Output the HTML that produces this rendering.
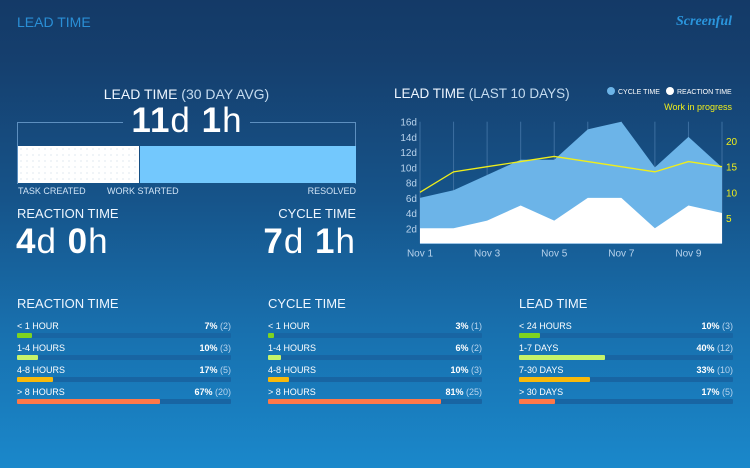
<!DOCTYPE html>
<html><head><meta charset="utf-8"><style>
*{margin:0;padding:0;box-sizing:border-box}
body{width:750px;height:468px;overflow:hidden;font-family:"Liberation Sans",sans-serif;color:#fff;
background:linear-gradient(180deg,#143a67 0px,#153f6e 60px,#16548a 200px,#1870ae 330px,#1a88cb 468px);position:relative}
.abs{position:absolute;white-space:nowrap}
.hdr{left:17px;top:14px;font-size:14px;color:#2a8fd6}
.logo{right:18px;top:14px;font-size:14px;color:#2a95dc;font-style:italic;font-family:"Liberation Serif",serif;font-weight:bold}
.big{font-size:35px;font-weight:bold;letter-spacing:1px;line-height:36px}
.big span{font-weight:normal}
.lbl{font-size:9px;color:#cfe3f5}
.h2{font-size:13px;color:#eef6ff}
.row{position:absolute;width:214px;height:20px}
.row .t{position:absolute;left:0;top:0;font-size:9px}
.row .p{position:absolute;right:0;top:0;font-size:9px;font-weight:bold}
.row .p span{font-weight:normal;color:#b8d4ee}
.row .tr{position:absolute;left:0;top:12px;width:214px;height:5px;background:#1865a3;border-radius:1px}
.row .f{position:absolute;left:0;top:0;height:5px;border-radius:1px}
</style></head><body>
<div class="abs hdr">LEAD TIME</div>
<div class="abs logo">Screenful</div>

<div class="abs" style="left:17px;top:86px;width:339px;text-align:center;font-size:14px;color:#eef6ff">LEAD TIME <span style="color:#c5dcf0">(30 DAY AVG)</span></div>
<div class="abs" style="left:17px;top:122px;width:106px;height:62px;border:1px solid #5d8fbf;border-right:none;border-bottom:none"></div>
<div class="abs" style="left:250px;top:122px;width:106px;height:62px;border:1px solid #5d8fbf;border-left:none;border-bottom:none"></div>
<div class="abs big" style="left:117px;top:103px;width:140px;text-align:center">11<span>d</span> 1<span>h</span></div>
<div class="abs" style="left:18px;top:146px;width:121px;height:37px;background:#fff;background-image:radial-gradient(#c9d6e3 0.6px,transparent 0.8px);background-size:6px 6px"></div>
<div class="abs" style="left:140px;top:146px;width:216px;height:37px;background:#73c8fd"></div>
<div class="abs lbl" style="left:18px;top:186px">TASK CREATED</div>
<div class="abs lbl" style="left:107px;top:186px">WORK STARTED</div>
<div class="abs lbl" style="right:394px;top:186px">RESOLVED</div>
<div class="abs h2" style="left:17px;top:206px">REACTION TIME</div>
<div class="abs big" style="left:16px;top:224px">4<span>d</span> 0<span>h</span></div>
<div class="abs h2" style="right:394px;top:206px">CYCLE TIME</div>
<div class="abs big" style="right:394px;top:224px">7<span>d</span> 1<span>h</span></div>

<div class="abs" style="left:394px;top:86px;font-size:13.5px;color:#eef6ff">LEAD TIME <span style="color:#c5dcf0">(LAST 10 DAYS)</span></div>
<svg class="abs" style="left:0;top:0" width="750" height="468" id="chart"></svg>

<div class="abs h2" style="left:17px;top:296px">REACTION TIME</div>
<div class="abs h2" style="left:268px;top:296px">CYCLE TIME</div>
<div class="abs h2" style="left:519px;top:296px">LEAD TIME</div>
<div id="bars"></div>

<script>
const days=["Nov 1","Nov 2","Nov 3","Nov 4","Nov 5","Nov 6","Nov 7","Nov 8","Nov 9","Nov 10"];
const cycleTop=[6,7,9,11,11,15,16,10,14,10];
const reaction=[2,2,3,5,3,6,6,2,5,4];
const wip=[10,14,15,16,17,16,15,14,16,15];
const leftTicks=[2,4,6,8,10,12,14,16];
const rightTicks=[5,10,15,20];
const xLabelIdx=[0,2,4,6,8];

const NS="http://www.w3.org/2000/svg";
const svg=document.getElementById('chart');
const x0=420,x1=722,yb=243.5,yt=121.7;
const X=i=>x0+(x1-x0)*i/(days.length-1);
const Y=v=>yb-(yb-yt)*v/16;
const YR=v=>yb-(yb-166.7)*v/15;
function mk(tag,attrs){const e=document.createElementNS(NS,tag);for(const k in attrs)e.setAttribute(k,attrs[k]);svg.appendChild(e);return e;}

days.forEach((d,i)=>{const l=mk('line',{x1:X(i),x2:X(i),y1:yt,y2:yb,stroke:'#3d6fa0','stroke-width':1});

});
let p='M'+X(0)+','+yb;cycleTop.forEach((v,i)=>p+=' L'+X(i)+','+Y(v));p+=' L'+X(days.length-1)+','+yb+' Z';
const ca=mk('path',{d:p,fill:'#6cb4e8'});


p='M'+X(0)+','+yb;reaction.forEach((v,i)=>p+=' L'+X(i)+','+Y(v));p+=' L'+X(days.length-1)+','+yb+' Z';
const ra=mk('path',{d:p,fill:'#ffffff'});


const wl=mk('polyline',{points:wip.map((v,i)=>X(i)+','+YR(v)).join(' '),fill:'none',stroke:'#f0ee1a','stroke-width':1.3});


const bl=mk('line',{x1:x0,x2:x1,y1:yb,y2:yb,stroke:'#9cc4e6','stroke-width':1});


leftTicks.forEach(v=>{const t=mk('text',{x:x0-3,y:Y(v)+4,'text-anchor':'end','font-size':10,fill:'#b9d3ec'});t.textContent=v+'d';

});
rightTicks.forEach(v=>{const t=mk('text',{x:x1+4,y:YR(v)+4,'font-size':10,fill:'#f0ee1a'});t.textContent=v;

});
xLabelIdx.forEach(i=>{const t=mk('text',{x:X(i),y:yb+13,'text-anchor':'middle','font-size':10,fill:'#b9d3ec'});t.textContent=days[i];

});
const c1=mk('circle',{cx:611,cy:91,r:4,fill:'#6cb4e8'});


let t=mk('text',{x:618,y:94,'font-size':7,fill:'#fff'});t.textContent='CYCLE TIME';


const c2=mk('circle',{cx:670,cy:91,r:4,fill:'#fff'});


t=mk('text',{x:677,y:94,'font-size':7,fill:'#fff'});t.textContent='REACTION TIME';


t=mk('text',{x:732,y:110,'text-anchor':'end','font-size':9,fill:'#f0ee1a'});t.textContent='Work in progress';



const colors=['#7ed321','#c6f36a','#f8b90b','#ff7848'];
const reactLabels=['< 1 HOUR','1-4 HOURS','4-8 HOURS','> 8 HOURS'];
const reactPct=[7,10,17,67];const reactCnt=[2,3,5,20];
const cycleLabels=['< 1 HOUR','1-4 HOURS','4-8 HOURS','> 8 HOURS'];
const cyclePct=[3,6,10,81];const cycleCnt=[1,2,3,25];
const leadLabels=['< 24 HOURS','1-7 DAYS','7-30 DAYS','> 30 DAYS'];
const leadPct=[10,40,33,17];const leadCnt=[3,12,10,5];
const groups=[[17,reactLabels,reactPct,reactCnt,'reaction'],[268,cycleLabels,cyclePct,cycleCnt,'cycle'],[519,leadLabels,leadPct,leadCnt,'lead']];
const host=document.getElementById('bars');
groups.forEach(g=>{g[1].forEach((lab,i)=>{
 const r=document.createElement('div');r.className='row';r.style.left=g[0]+'px';r.style.top=(321+i*22)+'px';
 
 
 r.innerHTML='<div class="t">'+lab+'</div><div class="p">'+g[2][i]+'% <span>('+g[3][i]+')</span></div><div class="tr"><div class="f" style="width:'+(214*g[2][i]/100)+'px;background:'+colors[i]+'"></div></div>';
 host.appendChild(r);
});});
</script>
</body></html>
